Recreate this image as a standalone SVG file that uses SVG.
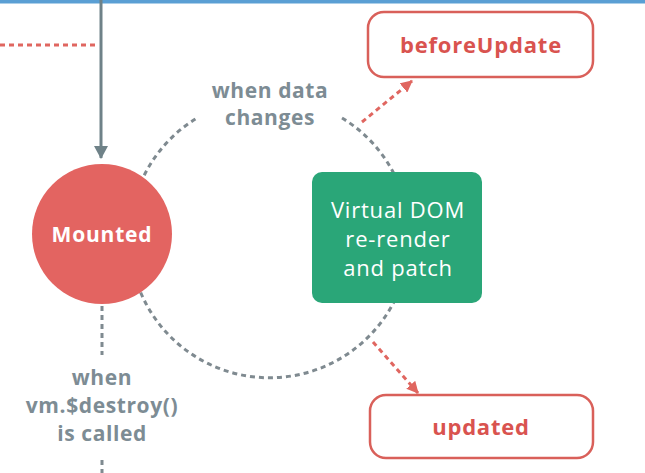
<svg xmlns="http://www.w3.org/2000/svg" width="645" height="473" viewBox="0 0 645 473">
<style>
.lbl{font-family:"Open Sans","Noto Sans","Liberation Sans",sans-serif;font-weight:700;text-anchor:middle}
.gray{fill:#7d8c94;font-size:21px;letter-spacing:0.6px}
.red{fill:#d9534f;font-size:22px;letter-spacing:0.8px}
.white{fill:#ffffff}
.vd{font-family:"Open Sans","Noto Sans","Liberation Sans",sans-serif;font-size:22px;fill:#ffffff;text-anchor:middle;letter-spacing:0.8px}
.box{fill:#ffffff;stroke:#d9605a;stroke-width:2.5}
.dash{fill:none;stroke:#7f8a90;stroke-width:3;stroke-dasharray:5 4}
.rdash{fill:none;stroke:#e06660;stroke-width:3;stroke-dasharray:5 4}
</style>
<defs>
<marker id="ra" markerWidth="12" markerHeight="12" refX="11" refY="6" orient="auto" markerUnits="userSpaceOnUse">
<path d="M0,0 L12,6 L0,12 z" fill="#e06660"/>
</marker>
<marker id="ga" markerWidth="14" markerHeight="14" refX="12" refY="7" orient="auto" markerUnits="userSpaceOnUse">
<path d="M0,0 L13,7 L0,14 z" fill="#6f8288"/>
</marker>
</defs>
<rect width="645" height="473" fill="#ffffff"/>
<rect x="0" y="0" width="645" height="3.5" fill="#5a9fd4"/>
<g id="connectors">
<path class="rdash" d="M0,45 L98,45"/>
<path d="M101,0 L101,158" stroke="#6f8288" stroke-width="3" fill="none" marker-end="url(#ga)"/>
<path class="dash" d="M342,118 A140,140 0 1 1 197,118"/>
<path class="rdash" d="M362,122 L412,81" marker-end="url(#ra)"/>
<path class="rdash" d="M373,342 L418,393" marker-end="url(#ra)"/>
<path class="dash" d="M102,306 L102,355"/>
<path class="dash" d="M102,460 L102,473"/>
</g>
<g id="mounted">
<circle cx="102" cy="234" r="70" fill="#e36461"/>
<text class="lbl white" x="102" y="242" font-size="21" letter-spacing="0.8">Mounted</text>
</g>
<g id="vdom">
<rect x="312" y="172" width="170" height="131" rx="10" fill="#2aa678"/>
<text class="vd" x="398" y="218">Virtual DOM</text>
<text class="vd" x="398" y="247">re-render</text>
<text class="vd" x="398" y="276">and patch</text>
</g>
<g id="beforeUpdate">
<rect class="box" x="368" y="12" width="225" height="65" rx="16"/>
<text class="lbl red" x="481" y="53">beforeUpdate</text>
</g>
<g id="updated">
<rect class="box" x="370" y="395" width="223" height="63" rx="16"/>
<text class="lbl red" x="481" y="435">updated</text>
</g>
<g id="label-data">
<text class="lbl gray" x="270" y="98">when data</text>
<text class="lbl gray" x="270" y="125">changes</text>
</g>
<g id="label-destroy">
<text class="lbl gray" x="102" y="385">when</text>
<text class="lbl gray" x="102" y="413">vm.$destroy()</text>
<text class="lbl gray" x="102" y="441">is called</text>
</g>
</svg>
